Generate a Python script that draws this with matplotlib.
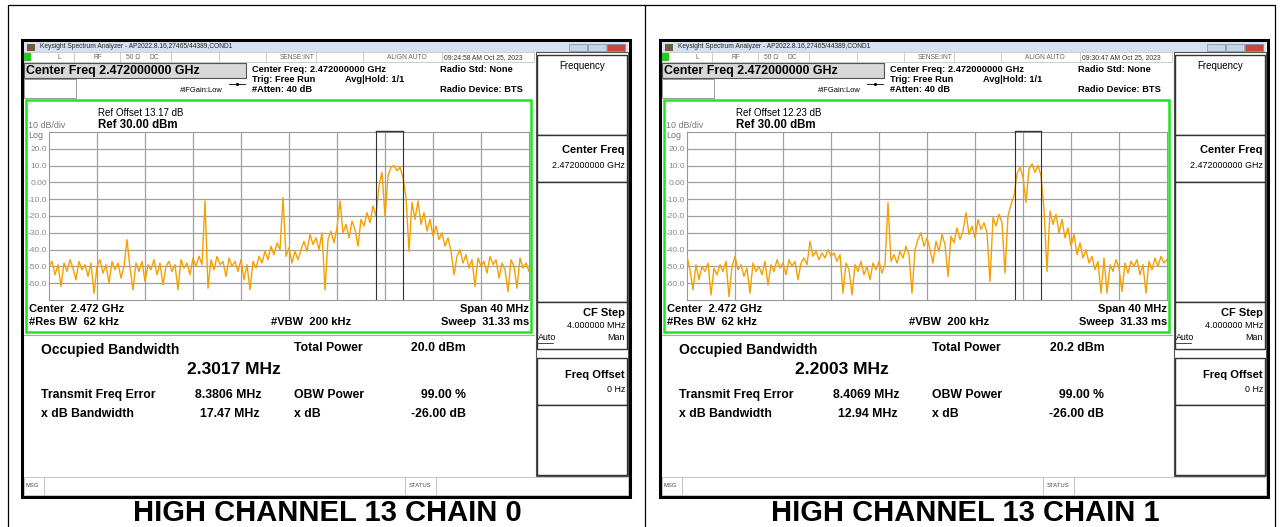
import matplotlib
matplotlib.use('Agg')
import matplotlib.pyplot as plt
import numpy as np
from matplotlib.patches import Rectangle

plt.rcParams['font.family'] = ['Liberation Sans', 'DejaVu Sans']

W, H = 1282, 527

# one entry per screenshot
chain_titles = ['HIGH CHANNEL 13 CHAIN 0', 'HIGH CHANNEL 13 CHAIN 1']
timestamps = ['09:24:58 AM Oct 25, 2023', '09:30:47 AM Oct 25, 2023']
ref_offsets_db = [13.17, 12.23]
occupied_bw_mhz = [2.3017, 2.2003]
freq_error_mhz = [8.3806, 8.4069]
xdb_bw_mhz = [17.47, 12.94]
total_power_dbm = [20.0, 20.2]
obw_power_pct = 99.00
x_db = -26.00

center_ghz = 2.472
span_mhz = 40
ref_level_dbm = 30.0
db_per_div = 10

# trace readings in dBm, 0.25 MHz apart from -20 MHz to +20 MHz around centre
trace_chain0 = [
    -50, -47, -55, -49, -62, -48, -53, -46, -51, -58, -47, -52, -49, -56, -48, -66,
    -50, -46, -54, -49, -60, -47, -52, -48, -57, -50, -34, -51, -64, -48, -53, -47,
    -59, -49, -52, -46, -55, -48, -61, -50, -47, -53, -49, -64, -46, -51, -48, -55,
    -45, -50, -44, -49, -11, -63, -46, -52, -44, -49, -47, -56, -45, -50, -47, -53,
    -46, -58, -49, -64, -47, -51, -44, -48, -41, -46, -38, -43, -36, -40, -9, -44,
    -39, -48, -41, -46, -40, -35, -41, -31, -37, -33, -40, -30, -64, -34, -29, -36,
    -27, -11, -30, -25, -33, -23, -28, -38, -22, -26, -18, -24, -14, -20, -2, 6,
    -20, 4, 9, 10, 7, 9, 3, -9, -41, -12, -22, -11, -25, -18, -29, -22,
    -32, -26, -34, -30, -38, -33, -41, -55, -44, -40, -48, -43, -51, -46, -62, -45,
    -50, -47, -54, -44, -49, -46, -57, -48, -52, -65, -46, -50, -63, -45, -51, -48,
    -53,
]
trace_chain1 = [
    -44, -52, -64, -49, -58, -50, -53, -48, -67, -51, -55, -49, -53, -47, -68, -50,
    -44, -52, -49, -56, -51, -66, -48, -53, -50, -55, -47, -61, -49, -53, -46, -51,
    -48, -55, -46, -50, -47, -58, -48, -45, -49, -35, -44, -41, -46, -42, -45, -40,
    -44, -42, -47, -43, -66, -48, -52, -67, -49, -53, -47, -55, -50, -58, -48, -52,
    -47, -54, -49, -12, -47, -43, -48, -41, -45, -38, -43, -66, -40, -34, -30, -38,
    -33, -40, -48, -35, -41, -31, -37, -56, -32, -36, -27, -34, -29, -18, -31, -26,
    -33, -22, -28, -24, -30, -59, -21, -26, -19, -24, -54, -20, -13, -8, 5, 9,
    3, -12, 8, 11, 6, 10, 4, -16, -53, -17, -25, -19, -30, -22, -33, -27,
    -38, -31, -43, -36, -45, -40, -48, -44, -52, -47, -66, -45, -66, -49, -53, -46,
    -51, -65, -48, -54, -47, -50, -46, -55, -49, -66, -47, -52, -45, -50, -44, -48,
    -46,
]
traces = [trace_chain0, trace_chain1]

fig = plt.figure(figsize=(W / 100, H / 100), dpi=100)
bg = fig.add_axes([0, 0, 1, 1])
bg.set_xlim(0, W)
bg.set_ylim(H, 0)
bg.axis('off')


def box(x0, y0, x1, y1, fc='none', ec='black', lw=0.8, z=1):
    bg.add_patch(Rectangle((x0, y0), x1 - x0, y1 - y0, facecolor=fc,
                           edgecolor=ec, linewidth=lw, zorder=z))


def txt(x, y, s, size=7, weight='normal', ha='left', color='black', z=5):
    bg.text(x, y, s, fontsize=size, fontweight=weight, ha=ha, va='center',
            color=color, zorder=z)


def hline(x0, x1, y, color='#999999', lw=0.6):
    bg.plot([x0, x1], [y, y], color=color, lw=lw, zorder=3)


def vline(x, y0, y1, color='#999999', lw=0.6):
    bg.plot([x, x], [y0, y1], color=color, lw=lw, zorder=3)


# outer table
bg.add_patch(Rectangle((7.5, 5), 1267.5, 530, facecolor='white', edgecolor='black', lw=0.9, zorder=0))
vline(645, 5, 527, color='black', lw=0.9)

obw_value_x = [187, 157]  # where the big OBW readout starts in each window

for k, ox in enumerate([0, 638]):
    # window frame + title bar
    box(ox + 22, 40, ox + 630, 497, fc='white', ec='black', lw=2.2)
    box(ox + 24, 42, ox + 628, 52, fc='#d5e1f1', ec='none', z=2)
    box(ox + 27, 43.5, ox + 35, 50.5, fc='#6e5c3c', ec='none', z=3)
    txt(ox + 40, 47, 'Keysight Spectrum Analyzer - AP2022.8.16,27465/44389,COND1', size=4.8, color='#222222')
    for bx in [569, 588, 607]:
        fc = '#c8473a' if bx == 607 else '#c6d4e8'
        box(ox + bx, 43.5, ox + bx + 18, 51, fc=fc, ec='#7d8ca3', lw=0.5, z=3)

    # status row
    box(ox + 24, 52, ox + 534, 62, fc='white', ec='#bbbbbb', lw=0.5, z=2)
    for sx in [74, 120, 171, 219, 266, 316, 363, 442]:
        vline(ox + sx, 52, 62, color='#bbbbbb', lw=0.5)
    box(ox + 24, 53, ox + 31, 61, fc='#22cc22', ec='none', z=3)
    for sx, s in [(58, 'L'), (94, 'RF'), (126, '50 Ω'), (149, 'DC'), (280, 'SENSE:INT'), (387, 'ALIGN AUTO')]:
        txt(ox + sx, 57.5, s, size=4.8, color='#666666')
    txt(ox + 444, 57.5, timestamps[k], size=4.9, color='#333333')

    # centre freq entry + info block
    box(ox + 24, 63, ox + 246, 78, fc='#d8d8d8', ec='#555555', lw=0.8, z=2)
    txt(ox + 26, 71, 'Center Freq 2.472000000 GHz', size=8.9, weight='bold')
    box(ox + 24, 79, ox + 76, 98, fc='white', ec='#888888', lw=0.6, z=2)
    bg.plot([ox + 229, ox + 245], [84, 84], color='black', lw=0.6, zorder=3)
    bg.plot([ox + 237], [84], 'k.', ms=2.5, zorder=3)
    txt(ox + 180, 91, '#IFGain:Low', size=5.4)
    for sx, sy, s in [(252, 69, f'Center Freq: {center_ghz:.9f} GHz'), (252, 79.5, 'Trig: Free Run'),
                      (252, 90, '#Atten: 40 dB'), (345, 79.5, 'Avg|Hold: 1/1'),
                      (440, 69, 'Radio Std: None'), (440, 90, 'Radio Device: BTS')]:
        txt(ox + sx, sy, s, size=6.7, weight='bold')

    # trace window
    box(ox + 26, 100, ox + 531, 332, ec='#1ee61e', lw=1.8, z=4)
    txt(ox + 98, 113, f'Ref Offset {ref_offsets_db[k]:.2f} dB', size=7)
    txt(ox + 98, 124.5, f'Ref {ref_level_dbm:.2f} dBm', size=8.3, weight='bold')
    txt(ox + 28, 125.5, f'{db_per_div} dB/div', size=6.4, color='#777777')
    txt(ox + 28, 135, 'Log', size=6.4, color='#777777')
    txt(ox + 29, 308.5, f'Center  {center_ghz:.3f} GHz', size=8, weight='bold')
    txt(ox + 29, 322, '#Res BW  62 kHz', size=8, weight='bold')
    txt(ox + 271, 322, '#VBW  200 kHz', size=8, weight='bold')
    txt(ox + 529, 308.5, f'Span {span_mhz} MHz', size=8, weight='bold', ha='right')
    txt(ox + 529, 322, 'Sweep  31.33 ms', size=8, weight='bold', ha='right')
    hline(ox + 24, ox + 534, 335, color='#aaaaaa', lw=0.8)

    # measurement results
    txt(ox + 41, 350, 'Occupied Bandwidth', size=10, weight='bold')
    txt(ox + obw_value_x[k], 370, f'{occupied_bw_mhz[k]:.4f} MHz', size=12.5, weight='bold')
    txt(ox + 294, 348, 'Total Power', size=8.8, weight='bold')
    txt(ox + 466, 348, f'{total_power_dbm[k]:.1f} dBm', size=8.8, weight='bold', ha='right')
    txt(ox + 41, 395, 'Transmit Freq Error', size=8.8, weight='bold')
    txt(ox + 262, 395, f'{freq_error_mhz[k]:.4f} MHz', size=8.8, weight='bold', ha='right')
    txt(ox + 294, 395, 'OBW Power', size=8.8, weight='bold')
    txt(ox + 466, 395, f'{obw_power_pct:.2f} %', size=8.8, weight='bold', ha='right')
    txt(ox + 41, 414, 'x dB Bandwidth', size=8.8, weight='bold')
    txt(ox + 260, 414, f'{xdb_bw_mhz[k]:.2f} MHz', size=8.8, weight='bold', ha='right')
    txt(ox + 294, 414, 'x dB', size=8.8, weight='bold')
    txt(ox + 466, 414, f'{x_db:.2f} dB', size=8.8, weight='bold', ha='right')

    # softkey panel
    box(ox + 536, 52, ox + 628, 476, fc='white', ec='#555555', lw=0.8, z=2)
    for y0, y1 in [(55, 135), (135, 182), (182, 302), (302, 349), (358, 405), (405, 475)]:
        box(ox + 537, y0, ox + 627, y1, fc='white', ec='#333333', lw=1.0, z=2)
    txt(ox + 582, 66, 'Frequency', size=7, ha='center')
    txt(ox + 625, 150, 'Center Freq', size=8, weight='bold', ha='right')
    txt(ox + 625, 165.5, f'{center_ghz:.9f} GHz', size=6.4, ha='right')
    txt(ox + 625, 313.5, 'CF Step', size=8, weight='bold', ha='right')
    txt(ox + 625, 326, '4.000000 MHz', size=6.4, ha='right')
    txt(ox + 538, 338, 'Auto', size=6.4)
    hline(ox + 538, ox + 553, 342.5, color='black', lw=0.5)
    txt(ox + 625, 338, 'Man', size=6.4, ha='right')
    txt(ox + 625, 374.5, 'Freq Offset', size=8, weight='bold', ha='right')
    txt(ox + 625, 389, '0 Hz', size=6.4, ha='right')

    # message row
    box(ox + 24, 477, ox + 628, 495, fc='white', ec='#bbbbbb', lw=0.6, z=2)
    for sx in [44, 405, 436]:
        vline(ox + sx, 477, 495, color='#bbbbbb', lw=0.6)
    txt(ox + 25, 485.5, 'MSG', size=4.2, color='#444444')
    txt(ox + 409, 485.5, 'STATUS', size=4.2, color='#444444')

    # caption
    txt(ox + 327, 513, chain_titles[k], size=21, weight='bold', ha='center')

    # spectrum graticule
    ax = fig.add_axes([(ox + 49) / W, 1 - 300 / H, 480 / W, 168 / H])
    trace = np.array(traces[k], dtype=float)
    freq = np.linspace(-span_mhz / 2, span_mhz / 2, len(trace))
    ax.plot(freq, trace, color='#f5a000', lw=1.0, zorder=3)
    ax.set_xlim(-span_mhz / 2, span_mhz / 2)
    bottom = ref_level_dbm - 10 * db_per_div
    ax.set_ylim(bottom, ref_level_dbm)
    ax.set_xticks(np.arange(-16, 17, 4))
    ax.set_xticklabels([])
    yt = np.arange(bottom + db_per_div, ref_level_dbm, db_per_div)
    ax.set_yticks(yt)
    ax.set_yticklabels(['0.00' if v == 0 else f'{v:.1f}' for v in yt])
    ax.tick_params(length=0, labelsize=6, labelcolor='#888888', pad=1.5)
    ax.grid(color='#a0a0a0', lw=0.9)
    ax.set_axisbelow(True)
    for sp in ax.spines.values():
        sp.set_color('#999999')
        sp.set_linewidth(0.8)

    # occupied bandwidth markers
    lo = freq_error_mhz[k] - occupied_bw_mhz[k] / 2
    hi = freq_error_mhz[k] + occupied_bw_mhz[k] / 2
    for f in (lo, hi):
        ax.axvline(f, color='#333333', lw=0.8, zorder=4)
    ax.plot([lo, hi], [ref_level_dbm + 0.4, ref_level_dbm + 0.4], color='#333333', lw=1.0,
            clip_on=False, zorder=4)

fig.savefig('out.png', dpi=100)
